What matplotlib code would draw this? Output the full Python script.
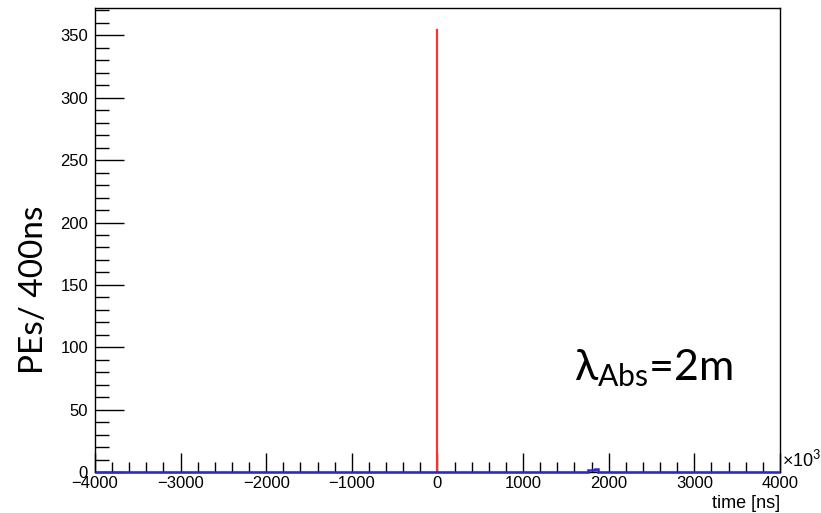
import numpy as np
import matplotlib
matplotlib.use("Agg")
import matplotlib.pyplot as plt
from matplotlib.ticker import MultipleLocator

plt.rcParams['font.family'] = ['Liberation Sans', 'DejaVu Sans']
plt.rcParams['mathtext.fontset'] = 'custom'
plt.rcParams['mathtext.rm'] = 'Lato'

# histogram binning (units of 10^3 ns on the axis)
bin_width = 40
x_min, x_max = -4000, 4000

# blue histogram: only non-empty bins (left edge -> PEs)
blue_edges = [1760, 1800, 1840, 1880]
blue_counts = [1.4, 1.4, 2.7, 0.0]

# red histogram: single spike at zero
red_edges = [0]
red_counts = [354]

y_max = 372

edges = np.arange(x_min, x_max + bin_width, bin_width)
blue = np.zeros(len(edges) - 1)
for e, c in zip(blue_edges, blue_counts):
    blue[int((e - x_min) // bin_width)] = c

fig = plt.figure(figsize=(8.21, 5.13), dpi=100)
ax = fig.add_axes([0.1157, 0.0799, 0.8343, 0.9045])

ax.stairs(blue, edges, color='#2a2ac8', lw=1.8, zorder=3, clip_on=False)
for e, c in zip(red_edges, red_counts):
    ax.plot([e, e], [0, c], color='#ff3030', lw=1.6, zorder=2)

ax.set_xlim(x_min, x_max)
ax.set_ylim(0, y_max)
ax.xaxis.set_major_locator(MultipleLocator(1000))
ax.xaxis.set_minor_locator(MultipleLocator(200))
ax.yaxis.set_major_locator(MultipleLocator(50))
ax.yaxis.set_minor_locator(MultipleLocator(10))
ax.tick_params(which='both', direction='in', top=False, right=False,
               labelsize=12, width=1)
ax.tick_params(axis='y', which='major', length=21, pad=5)
ax.tick_params(axis='y', which='minor', length=10)
ax.tick_params(axis='x', which='major', length=14, pad=3)
ax.tick_params(axis='x', which='minor', length=7)
for s in ax.spines.values():
    s.set_linewidth(1)

ax.text(1.003, 0.005, r'$\times$10$^3$', transform=ax.transAxes,
        fontsize=13, ha='left', va='bottom', family='Liberation Sans')
ax.text(1.0, -0.05, 'time [ns]', transform=ax.transAxes, fontsize=13,
        ha='right', va='top')

fig.text(0.042, 0.435, 'PEs/ 400ns', rotation=90, fontsize=24,
         ha='center', va='center', family='Lato')
ax.text(0.70, 0.225, r'λ$_{\mathrm{Abs}}$=2m', transform=ax.transAxes,
        fontsize=31, family='Lato', ha='left', va='center')

fig.savefig('out.png', dpi=100)
